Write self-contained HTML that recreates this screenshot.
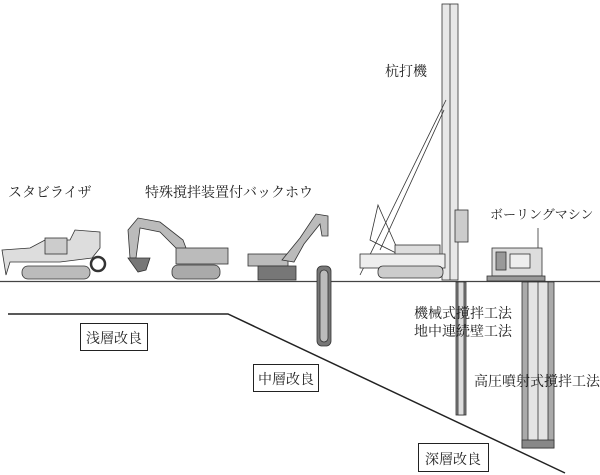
<!DOCTYPE html>
<html><head><meta charset="utf-8"><style>
html,body{margin:0;padding:0;background:#fff;}
svg{display:block;}
text{font-family:"Liberation Serif","Noto Serif CJK SC","Noto Sans CJK JP",serif;fill:#222;}
</style></head><body>
<svg width="600" height="475" viewBox="0 0 600 475" xmlns="http://www.w3.org/2000/svg">
<!-- ground -->
<line x1="0" y1="281.5" x2="600" y2="281.5" stroke="#444" stroke-width="1.2"/>
<polyline points="8,314 228,314 565,473" fill="none" stroke="#222" stroke-width="1.5"/>

<!-- stabilizer -->
<g stroke="#333" stroke-width="0.8">
<polygon points="2,250 30,248 45,240 70,240 75,230 100,232 100,248 92,258 60,262 10,262 6,275" fill="#ddd"/>
<rect x="45" y="238" width="22" height="16" fill="#ccc"/>
<rect x="22" y="266" width="68" height="13" rx="6" fill="#bbb"/>
<circle cx="98" cy="264" r="7" fill="#fff" stroke-width="2.5"/>
</g>
<!-- backhoe 1 -->
<g stroke="#333" stroke-width="0.8">
<polygon points="128,230 138,218 160,222 183,240 186,248 178,250 160,232 140,228 136,258 130,258" fill="#bbb"/>
<path d="M128,258 L150,258 L146,270 L138,272 Z" fill="#777"/>
<rect x="176" y="248" width="52" height="16" fill="#bbb"/>
<rect x="172" y="265" width="48" height="14" rx="6" fill="#aaa"/>
</g>
<!-- backhoe 2 -->
<g stroke="#333" stroke-width="0.8">
<rect x="248" y="254" width="40" height="12" fill="#bbb"/>
<rect x="258" y="266" width="38" height="14" fill="#777"/>
<polygon points="282,260 300,238 316,214 328,216 328,236 322,236 320,224 304,244 294,262" fill="#bbb"/>
<rect x="317" y="266" width="14" height="80" rx="5" fill="#777"/>
<rect x="320" y="270" width="8" height="72" rx="4" fill="#bbb"/>
</g>
<!-- pile driver -->
<g stroke="#333" stroke-width="0.8">
<rect x="442" y="4" width="16" height="276" fill="#e8e8e8"/>
<line x1="450" y1="4" x2="450" y2="280"/>
<line x1="446" y1="100" x2="360" y2="275"/>
<line x1="444" y1="110" x2="380" y2="250"/>
<polygon points="378,205 400,255 370,240" fill="none"/>
<rect x="395" y="245" width="45" height="22" fill="#ddd"/>
<rect x="360" y="254" width="85" height="14" fill="#eee"/>
<rect x="378" y="266" width="65" height="12" rx="5" fill="#ccc"/>
<rect x="455" y="210" width="13" height="32" fill="#ccc"/>
<rect x="456" y="282" width="10" height="133" fill="#888"/>
<rect x="458" y="282" width="6" height="133" fill="#ddd"/>
</g>
<!-- boring machine -->
<g stroke="#333" stroke-width="0.8">
<rect x="492" y="248" width="50" height="28" fill="#ddd"/>
<rect x="496" y="252" width="10" height="18" fill="#999"/>
<rect x="510" y="254" width="20" height="14" fill="#eee"/>
<rect x="487" y="276" width="58" height="5" fill="#999"/>
<line x1="538" y1="228" x2="538" y2="248"/>
<rect x="522" y="282" width="32" height="166" fill="#aaa"/>
<rect x="528" y="282" width="20" height="166" fill="#e4e4e4"/>
<line x1="538" y1="282" x2="538" y2="440"/>
<rect x="522" y="440" width="32" height="8" fill="#888"/>
</g>

<!-- labels (on top) -->
<text x="8" y="197" font-size="14">スタビライザ</text>
<text x="145" y="197" font-size="14">特殊撹拌装置付バックホウ</text>
<text x="385" y="76" font-size="14">杭打機</text>
<text x="490" y="219" font-size="13">ボーリングマシン</text>
<text x="414" y="318" font-size="14">機械式撹拌工法</text>
<text x="414" y="336" font-size="14">地中連続壁工法</text>
<text x="474" y="386" font-size="14">高圧噴射式撹拌工法</text>
<rect x="80.5" y="323.5" width="67" height="27" fill="#fff" stroke="#222"/>
<text x="86" y="343" font-size="14">浅層改良</text>
<rect x="253.5" y="364.5" width="65" height="27" fill="#fff" stroke="#222"/>
<text x="258" y="384" font-size="14">中層改良</text>
<rect x="418.5" y="443.5" width="70" height="28" fill="#fff" stroke="#222"/>
<text x="425" y="464" font-size="14">深層改良</text>
</svg>
</body></html>
